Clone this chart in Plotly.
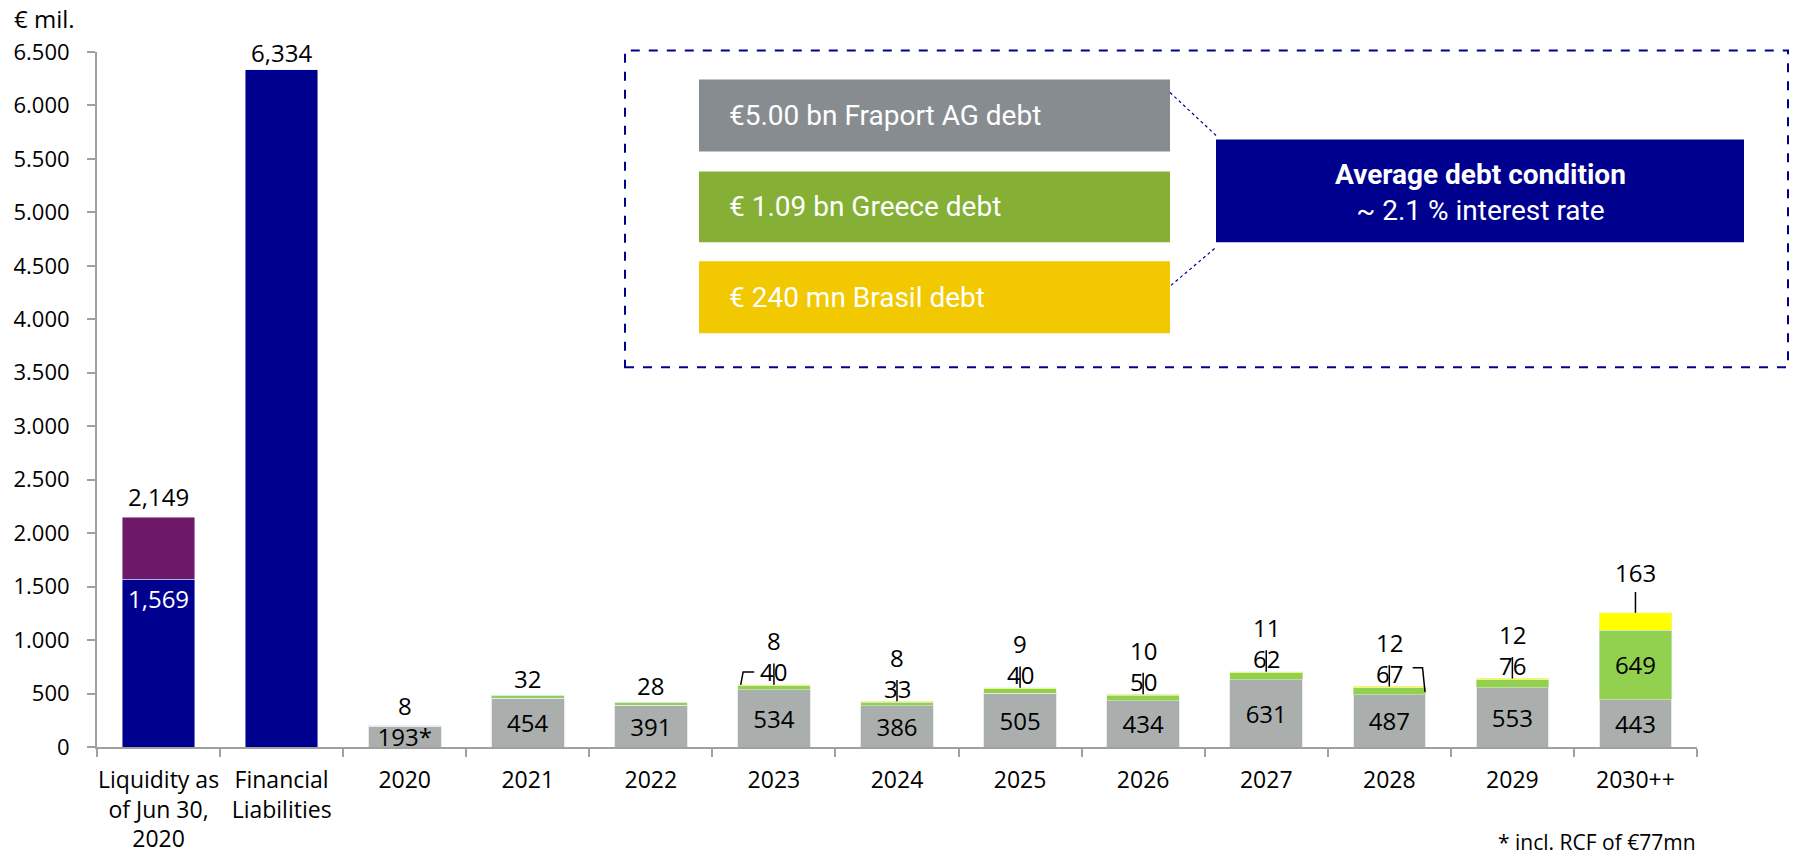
import plotly.graph_objects as go

# 🔹 datos del gráfico (€ mil.)
categories = ["Liquidity", "Financial", "2020", "2021", "2022", "2023", "2024",
              "2025", "2026", "2027", "2028", "2029", "2030++"]
tick_labels = ["Liquidity as<br>of Jun 30,<br>2020", "Financial<br>Liabilities", "2020", "2021",
               "2022", "2023", "2024", "2025", "2026", "2027", "2028", "2029", "2030++"]
years = categories[2:]

cash_blue = [1569, 6334]          # Liquidity (cash) / Financial Liabilities
liquidity_total = 2149            # incl. purple part
fraport = [193, 454, 391, 534, 386, 505, 434, 631, 487, 553, 443]
greece = [8, 32, 28, 40, 33, 40, 50, 62, 67, 76, 649]
brasil = [0, 0, 0, 8, 8, 9, 10, 11, 12, 12, 163]
y_ticks = list(range(0, 7000, 500))

BLUE = "#00008F"
PURPLE = "#6D1868"
GREY = "#AAAFAD"
GREEN = "#92D050"
YELLOW = "#FFFF00"
FONT = "Open Sans"
VAL = 24  # tamaño de las etiquetas de valores

# plot area in pixels (para colocar las cajas)
L, R, T, B = 97, 1697, 51.5, 747


def px(x):
    return (x - L) / (R - L)


def py(y):
    return (B - y) / (B - T)


fig = go.Figure()

fig.add_trace(go.Bar(
    x=categories[:2], y=cash_blue, marker_color=BLUE,
    text=[f"{cash_blue[0]:,}", ""], textposition="inside", insidetextanchor="end",
    textfont=dict(color="white", size=VAL, family=FONT), textangle=0
))
fig.add_trace(go.Bar(
    x=categories[:1], y=[liquidity_total - cash_blue[0]], marker_color=PURPLE
))
fig.add_trace(go.Bar(
    x=years, y=fraport, marker=dict(color=GREY, line=dict(color="#E8EAE9", width=1)),
    text=[f"{v}*" if i == 0 else str(v) for i, v in enumerate(fraport)],
    textposition="inside", insidetextanchor="middle", textangle=0,
    textfont=dict(color="black", size=VAL, family=FONT)
))
fig.add_trace(go.Bar(
    x=years, y=greece, marker_color=GREEN,
    text=["" if i < len(years) - 1 else str(g) for i, g in enumerate(greece)],
    textposition="inside", insidetextanchor="middle", textangle=0,
    textfont=dict(color="black", size=VAL, family=FONT)
))
fig.add_trace(go.Bar(x=years, y=brasil, marker_color=YELLOW))

annotations = []
shapes = []
lab = dict(showarrow=False, font=dict(size=VAL, family=FONT, color="black"), yanchor="middle")

# totales de las dos primeras barras
annotations.append(dict(x=0, y=liquidity_total, text=f"{liquidity_total:,}", yshift=21, **lab))
annotations.append(dict(x=1, y=cash_blue[1], text=f"{cash_blue[1]:,}", yshift=17, **lab))

# etiquetas encima de cada año + líneas guía
for i, yr in enumerate(years):
    top = fraport[i] + greece[i] + brasil[i]
    idx = i + 2
    if brasil[i] == 0:
        annotations.append(dict(x=idx, y=top, text=str(greece[i]), yshift=20 if i == 0 else 17, **lab))
    elif yr == "2030++":
        annotations.append(dict(x=idx, y=top, text=str(brasil[i]), yshift=40, **lab))
        shapes.append(dict(type="line", xref="x", yref="y", x0=idx, x1=idx, y0=top, y1=top + 195,
                           line=dict(color="black", width=1.5)))
    else:
        annotations.append(dict(x=idx, y=top, text=str(greece[i]), yshift=13, **lab))
        annotations.append(dict(x=idx, y=top, text=str(brasil[i]), yshift=44, **lab))
        shapes.append(dict(type="line", xref="x", yref="y", x0=idx, x1=idx, y0=top, y1=top + 200,
                           line=dict(color="black", width=1.5)))

# corchetes de las etiquetas (2023 y 2028)
t23 = fraport[3] + greece[3] + brasil[3]
shapes.append(dict(type="path", xref="x", yref="y",
                   path=f"M {5 - 0.27} {t23} L {5 - 0.25} {t23 + 120} L {5 - 0.16} {t23 + 120}",
                   line=dict(color="black", width=1.5)))
t28 = fraport[8] + greece[8] + brasil[8]
shapes.append(dict(type="path", xref="x", yref="y",
                   path=f"M {10 + 0.19} {t28 + 175} L {10 + 0.27} {t28 + 175} L {10 + 0.29} {t28 - 50}",
                   line=dict(color="black", width=1.5)))

# 🔹 caja con el resumen de deuda
box_font = dict(family="Roboto", size=28, color="white")
shapes.append(dict(type="rect", xref="paper", yref="paper", x0=px(625), x1=px(1788), y0=py(367), y1=py(50),
                   line=dict(color=BLUE, width=2, dash="dash")))
boxes = [("€5.00 bn Fraport AG debt", "#878C91", 79, 151),
         ("€ 1.09 bn Greece debt", "#85B035", 171, 242),
         ("€ 240 mn Brasil debt", "#F2C800", 261, 333)]
for txt, col, y0, y1 in boxes:
    shapes.append(dict(type="rect", xref="paper", yref="paper", x0=px(699), x1=px(1170),
                       y0=py(y1), y1=py(y0), fillcolor=col, line_width=0, layer="above"))
    annotations.append(dict(xref="paper", yref="paper", x=px(727), y=py((y0 + y1) / 2), text=txt,
                            xanchor="left", yanchor="middle", showarrow=False, font=box_font))

shapes.append(dict(type="rect", xref="paper", yref="paper", x0=px(1216), x1=px(1744), y0=py(242), y1=py(139),
                   fillcolor=BLUE, line_width=0, layer="above"))
annotations.append(dict(xref="paper", yref="paper", x=px(1480), y=py(192),
                        text="<b>Average debt condition</b><br>~ 2.1 % interest rate",
                        showarrow=False, xanchor="center", yanchor="middle", font=box_font))
for (xa, ya), (xb, yb) in [((1170, 92), (1216, 135)), ((1171, 285), (1216, 247))]:
    shapes.append(dict(type="line", xref="paper", yref="paper", x0=px(xa), y0=py(ya), x1=px(xb), y1=py(yb),
                       line=dict(color=BLUE, width=1.2, dash="dot")))

annotations.append(dict(xref="paper", yref="paper", x=px(12), y=py(18), text="€ mil.", xanchor="left",
                        yanchor="middle", showarrow=False, font=dict(size=24, family=FONT, color="black")))
annotations.append(dict(xref="paper", yref="paper", x=px(1698), y=py(842), text="* incl. RCF of €77mn",
                        xanchor="right", yanchor="middle", showarrow=False,
                        font=dict(size=21, family=FONT, color="black")))

fig.update_layout(
    barmode="stack", bargap=0.41, showlegend=False,
    width=1793, height=856,
    margin=dict(l=L, r=1793 - R, t=T, b=856 - B),
    paper_bgcolor="white", plot_bgcolor="white",
    font=dict(family=FONT, size=22, color="black"),
    uniformtext=dict(minsize=VAL, mode="show"),
    annotations=annotations, shapes=shapes,
    xaxis=dict(categoryorder="array", categoryarray=categories, tickvals=categories, ticktext=tick_labels,
               showline=True, linecolor="#A0A0A0", linewidth=2, ticks="outside", tickson="boundaries",
               ticklen=8, tickcolor="#A0A0A0", tickwidth=2, ticklabelstandoff=11, tickangle=0,
               tickfont=dict(size=23), automargin=False, range=[-0.5, len(categories) - 0.5]),
    yaxis=dict(range=[0, 6500], tickvals=y_ticks, ticktext=[f"{v:,}".replace(",", ".") for v in y_ticks],
               showline=True, linecolor="#A0A0A0", linewidth=2, ticks="outside", ticklen=8,
               tickcolor="#A0A0A0", tickwidth=2, showgrid=False, zeroline=False, ticklabelstandoff=13,
               automargin=False),
)

fig.write_html("out.html", config={"displayModeBar": False},
               post_script="document.body.style.margin='0';")
